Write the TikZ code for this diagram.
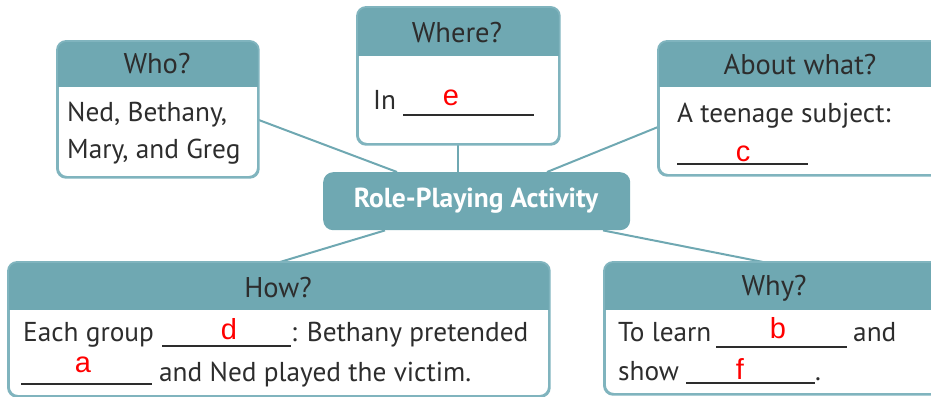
\documentclass[tikz,border=0pt]{standalone}
\usepackage{fontspec}
\setmainfont{PT Sans}
\newfontfamily\redfont{Liberation Sans}
\usetikzlibrary{calc}
\definecolor{teal1}{RGB}{111,168,178}
\definecolor{bord}{RGB}{128,180,190}
\definecolor{txt}{RGB}{45,45,45}
\tikzset{
 box/.style={draw=bord, line width=1.8pt, fill=white, rounded corners=9pt, anchor=north west, inner sep=0pt},
 boxline/.style={draw=bord, line width=1.8pt, rounded corners=9pt},
 conn/.style={draw=teal1, line width=2pt},
 hdr/.style={font=\fontsize{28.5}{32}\selectfont, text=txt, inner sep=0pt},
 body/.style={font=\fontsize{27.3}{32}\selectfont, text=txt, inner sep=0pt, anchor=base west},
 ans/.style={font=\redfont\fontsize{29}{34}\selectfont, text=red, inner sep=0pt, anchor=base},
 blank/.style={draw=txt, line width=1.2pt},
 hubbox/.style={fill=teal1, rounded corners=10pt, anchor=north west, inner sep=0pt},
}
\newcommand\headfill[2]{%
 \begin{scope}
 \clip[rounded corners=9pt] (#1.north west) rectangle (#1.south east);
 \fill[teal1] (#1.north west) rectangle ($(#1.north east)+(0,#2)$);
 \end{scope}
 \draw[boxline] (#1.north west) rectangle (#1.south east);}
\begin{document}
\begin{tikzpicture}[x=1pt,y=-1pt]
\useasboundingbox (0,0) rectangle (931,396);
\clip (0,0) rectangle (931,396);
% boxes
\node[box, minimum width=200pt, minimum height=135pt] (who) at (57,41) {};
\node[box, minimum width=201pt, minimum height=136pt] (where) at (357,7) {};
\node[box, minimum width=290pt, minimum height=133pt] (about) at (658,41) {};
\node[hubbox, minimum width=307pt, minimum height=58pt] (hub) at (323,172) {};
\node[box, minimum width=540pt, minimum height=133pt] (how) at (8,262) {};
\node[box, minimum width=340pt, minimum height=131pt] (why) at (604,262) {};
% connectors
\draw[conn] ($(who.north east)+(0,79)$) -- ($(hub.north west)+(74,0)$);
\draw[conn] (where.south) -- (where.south |- hub.north);
\draw[conn] ($(about.north west)+(0,86)$) -- ($(hub.north west)+(224,0)$);
\draw[conn] ($(hub.south west)+(62,0)$) -- ($(how.north west)+(272,0)$);
\draw[conn] ($(hub.south west)+(280,0)$) -- ($(why.north west)+(159,0)$);
% headers
\headfill{who}{46}
\headfill{where}{49}
\headfill{about}{46}
\headfill{how}{48}
\headfill{why}{48}
\node[hdr] (whoh) at (157,64) {Who?};
\node[hdr] (whereh) at (457,33) {Where?};
\node[hdr] (abouth) at (800,65) {About what?};
\node[hdr] (howh) at (278,288) {How?};
\node[hdr] (whyh) at (774,288) {Why?};
\node[inner sep=0pt, text=white, font=\bfseries\fontsize{27.5}{32}\selectfont] (hubt) at (476,201) {Role-Playing Activity};
% who
\node[body] (who1) at (67,121) {Ned, Bethany,};
\node[body] (who2) at (67,158) {Mary, and Greg};
% where
\node[body] (in) at (373,109) {In};
\draw[blank] (403,115) -- (534,115);
\node[ans] (e) at (451,105) {e};
% about
\node[body] (ab1) at (677,122) {A teenage subject:};
\draw[blank] (677,164) -- (808,164);
\node[ans] (c) at (743,161) {c};
% how
\node[body] (how1) at (23,341) {Each group};
\draw[blank] (162,346) -- (291,346);
\node[body] (how2) at (291,341) {: Bethany pretended};
\node[ans] (d) at (229,339) {d};
\draw[blank] (21,384) -- (152,384);
\node[ans] (a) at (83,372) {a};
\node[body] (how3) at (159,381) {and Ned played the victim.};
% why
\node[body] (why1) at (618,341) {To learn};
\draw[blank] (716,347) -- (847,347);
\node[ans] (b) at (778,338) {b};
\node[body] (why2) at (853,341) {and};
\node[body] (why3) at (618,380) {show};
\draw[blank] (686,383) -- (815,383);
\node[ans] (f) at (740,379) {f};
\node[body] (dot) at (815,380) {.};
\end{tikzpicture}
\end{document}
